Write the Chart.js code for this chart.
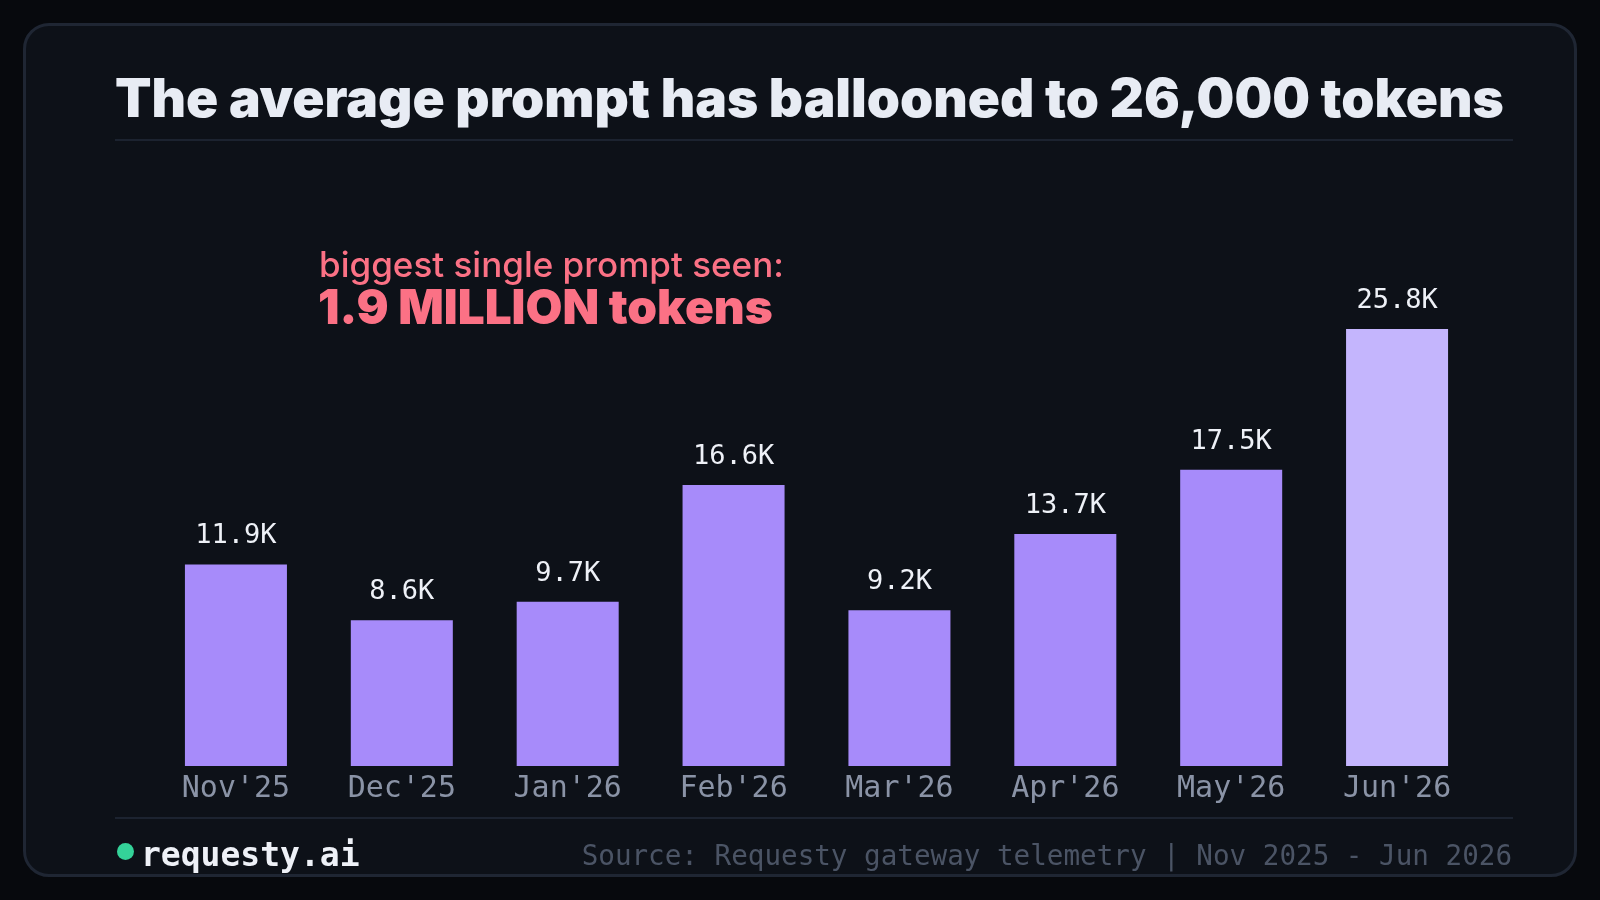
<!DOCTYPE html>
<html>
<head>
<meta charset="utf-8">
<script src="https://cdn.jsdelivr.net/npm/chart.js@4"></script>
<style>
  html, body { margin: 0; padding: 0; }
  body { width: 1600px; height: 900px; background: #07090d; position: relative; overflow: hidden; font-family: Inter, sans-serif; }
  .card { position: absolute; left: 23px; top: 23px; width: 1548px; height: 848px; border: 3px solid #1f2633; border-radius: 26px; background: #0d1118; }
  .title { position: absolute; left: 115px; top: 65px; margin: 0; font: 900 53.2px Inter, sans-serif; color: #e8ecf4; white-space: nowrap; }
  .rule { position: absolute; left: 115px; width: 1398px; height: 2px; background: #1c2330; }
  .note1 { position: absolute; left: 319px; top: 243px; font: 500 35px Inter, sans-serif; color: #fb7185; white-space: nowrap; }
  .note2 { position: absolute; left: 318px; top: 278px; font: 900 47.7px Inter, sans-serif; color: #fb7185; white-space: nowrap; }
  .brand { position: absolute; left: 141px; top: 835px; font: bold 33px "DejaVu Sans Mono", monospace; color: #eef1f7; white-space: nowrap; }
  .dot { position: absolute; left: 117px; top: 843px; width: 17px; height: 17px; border-radius: 50%; background: #34d399; }
  .source { position: absolute; right: 88px; top: 839px; font: 27.6px "DejaVu Sans Mono", monospace; color: #4b5465; white-space: nowrap; }
  #wrap { position: absolute; left: 0; top: 0; width: 1600px; height: 900px; }
</style>
</head>
<body>
<div class="card"></div>
<h1 class="title">The average prompt has ballooned to 26,000 tokens</h1>
<div class="rule" style="top:139px"></div>
<div id="wrap"><canvas id="myChart"></canvas></div>
<div class="note1">biggest single prompt seen:</div>
<div class="note2">1.9 MILLION tokens</div>
<div class="rule" style="top:817px"></div>
<div class="dot"></div>
<div class="brand">requesty.ai</div>
<div class="source">Source: Requesty gateway telemetry | Nov 2025 - Jun 2026</div>
<script>
const months = ["Nov'25", "Dec'25", "Jan'26", "Feb'26", "Mar'26", "Apr'26", "May'26", "Jun'26"];
const avgTokensK = [11.9, 8.6, 9.7, 16.6, 9.2, 13.7, 17.5, 25.8];
const yTicksMax = 30;

const barColor = '#a78bfa';
const lastBarColor = '#c4b5fd';

// value labels above the bars
const valueLabels = {
  id: 'valueLabels',
  afterDatasetsDraw(chart) {
    const ctx = chart.ctx;
    const meta = chart.getDatasetMeta(0);
    ctx.save();
    ctx.font = '27px "DejaVu Sans Mono", monospace';
    ctx.fillStyle = '#eef1f7';
    ctx.textAlign = 'center';
    ctx.textBaseline = 'alphabetic';
    meta.data.forEach((bar, i) => {
      ctx.fillText(avgTokensK[i].toFixed(1) + 'K', bar.x, bar.y - 21);
    });
    ctx.restore();
  }
};

const data = {
  labels: months,
  datasets: [{
    label: 'Average prompt (K tokens)',
    data: avgTokensK,
    backgroundColor: ctx => ctx.dataIndex === avgTokensK.length - 1 ? lastBarColor : barColor,
    borderWidth: 0,
    categoryPercentage: 1,
    barPercentage: 0.615
  }]
};

const config = {
  type: 'bar',
  data: data,
  options: {
    responsive: true,
    maintainAspectRatio: false,
    animation: false,
    layout: { padding: { left: 153, right: 120, top: 258, bottom: 96 } },
    plugins: { legend: { display: false }, tooltip: { enabled: false } },
    scales: {
      x: {
        grid: { display: false },
        border: { display: false },
        ticks: { color: '#8a93a6', padding: -3, font: { family: '"DejaVu Sans Mono", monospace', size: 30 } }
      },
      y: { display: false, min: 0, max: yTicksMax }
    }
  },
  plugins: [valueLabels]
};

const myChart = new Chart(document.getElementById('myChart'), config);
</script>
</body>
</html>
